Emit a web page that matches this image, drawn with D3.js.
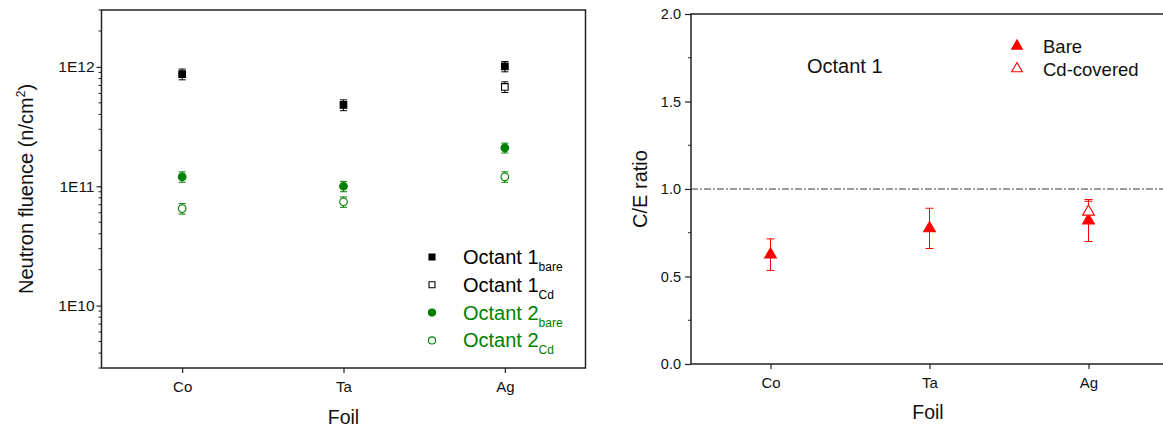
<!DOCTYPE html>
<html>
<head>
<meta charset="utf-8">
<script src="https://cdn.jsdelivr.net/npm/d3@7"></script>
<style>
body { margin: 0; background: #fff; }
svg { font-family: "Liberation Sans", Arial, sans-serif; }
</style>
</head>
<body>
<svg id="chart" width="1163" height="428"></svg>
<script>
// foils on the x axis
var foils = ["Co", "Ta", "Ag"];

// left panel: neutron fluence (n/cm2), value and error
var oct1Bare = [{foil: "Co", v: 8.7e11, e: 0.9e11},
		{foil: "Ta", v: 4.8e11, e: 0.5e11},
		{foil: "Ag", v: 1.01e12, e: 0.1e12}];
var oct1Cd = [{foil: "Ag", v: 6.8e11, e: 0.7e11}];
var oct2Bare = [{foil: "Co", v: 1.2e11, e: 0.12e11},
		{foil: "Ta", v: 1.0e11, e: 0.1e11},
		{foil: "Ag", v: 2.1e11, e: 0.2e11}];
var oct2Cd = [{foil: "Co", v: 6.5e10, e: 0.65e10},
	      {foil: "Ta", v: 7.4e10, e: 0.74e10},
	      {foil: "Ag", v: 1.2e11, e: 0.12e11}];
var fluenceTicks = [1e10, 1e11, 1e12];

// right panel: C/E ratio
var ceBare = [{foil: "Co", v: 0.625, e: 0.09},
	      {foil: "Ta", v: 0.775, e: 0.115},
	      {foil: "Ag", v: 0.82, e: 0.12}];
var ceCd = [{foil: "Ag", v: 0.87, e: 0.06}];
var ceTicks = [0.0, 0.5, 1.0, 1.5, 2.0];

var green = "#008000", red = "#ff0000";
var svg = d3.select("#chart");

// ---------- left panel ----------
var L = {left: 101.5, right: 585.5, top: 10, bottom: 368};
var xL = d3.scalePoint().domain(foils).range([L.left, L.right]).padding(0.5);
var yL = d3.scaleLog().domain([3e9, 3e12]).range([L.bottom, L.top]);

var gL = svg.append("g");
gL.append("rect")
    .attr("x", L.left).attr("y", L.top)
    .attr("width", L.right - L.left).attr("height", L.bottom - L.top)
    .style("fill", "none").style("stroke", "#222").style("stroke-width", 1.5);

// minor log ticks
var minor = [];
[1e9, 1e10, 1e11, 1e12].forEach(function(d) {
    for (var k = 2; k <= 9; k++) {
	var v = d * k;
	if (v >= 3e9 && v <= 3e12) minor.push(v);
    }
});
gL.selectAll(".minorL").data(minor).enter().append("line")
    .attr("x1", L.left).attr("x2", L.left - 3)
    .attr("y1", function(d) {return yL(d);})
    .attr("y2", function(d) {return yL(d);})
    .style("stroke", "#222").style("stroke-width", 1);

var yAxisL = gL.append("g")
    .attr("transform", "translate(" + L.left + ",0)")
    .call(d3.axisLeft(yL).tickValues(fluenceTicks).tickSize(5).tickPadding(2)
	  .tickFormat(function(d) {return "1E" + Math.round(Math.log10(d));}));
yAxisL.select(".domain").remove();
yAxisL.selectAll("line").style("stroke", "#222").style("stroke-width", 1.2);
yAxisL.selectAll("text").style("font-size", "15.5px").style("fill", "#111");

var xAxisL = gL.append("g")
    .attr("transform", "translate(0," + L.bottom + ")")
    .call(d3.axisBottom(xL).tickSize(5).tickPadding(8));
xAxisL.select(".domain").remove();
xAxisL.selectAll("line").style("stroke", "#222").style("stroke-width", 1.2);
xAxisL.selectAll("text").style("font-size", "15px").style("fill", "#111");

gL.append("text")
    .attr("x", (L.left + L.right) / 2).attr("y", 424)
    .attr("text-anchor", "middle")
    .style("font-size", "19.5px").style("fill", "#111")
    .text("Foil");

var ytL = gL.append("text")
    .attr("transform", "translate(33," + (L.top + L.bottom) / 2 + ") rotate(-90)")
    .attr("text-anchor", "middle")
    .style("font-size", "20px").style("fill", "#111");
ytL.append("tspan").text("Neutron fluence (n/cm");
ytL.append("tspan").attr("dy", -8).style("font-size", "12px").text("2");
ytL.append("tspan").attr("dy", 8).text(")");

function errorBars(g, data, x, y, col, cap) {
    var e = g.append("g").selectAll("g").data(data).enter().append("g")
	.style("stroke", col).style("stroke-width", 1);
    e.append("line")
	.attr("x1", function(d) {return x(d.foil);})
	.attr("x2", function(d) {return x(d.foil);})
	.attr("y1", function(d) {return y(d.v - d.e);})
	.attr("y2", function(d) {return y(d.v + d.e);});
    [-1, 1].forEach(function(s) {
	e.append("line")
	    .attr("x1", function(d) {return x(d.foil) - cap;})
	    .attr("x2", function(d) {return x(d.foil) + cap;})
	    .attr("y1", function(d) {return y(d.v + s * d.e);})
	    .attr("y2", function(d) {return y(d.v + s * d.e);});
    });
}

function points(g, data, x, y, type, size, col, filled) {
    g.append("g").selectAll("path").data(data).enter().append("path")
	.attr("d", d3.symbol().type(type).size(size))
	.attr("transform", function(d) {
	    return "translate(" + x(d.foil) + "," + y(d.v) + ")";
	})
	.style("fill", filled ? col : "#fff")
	.style("stroke", col).style("stroke-width", 1.1);
}

var seriesL = [
    {data: oct1Bare, col: "#000", type: d3.symbolSquare, filled: true, lab: "Octant 1", sub: "bare"},
    {data: oct1Cd, col: "#000", type: d3.symbolSquare, filled: false, lab: "Octant 1", sub: "Cd"},
    {data: oct2Bare, col: green, type: d3.symbolCircle, filled: true, lab: "Octant 2", sub: "bare"},
    {data: oct2Cd, col: green, type: d3.symbolCircle, filled: false, lab: "Octant 2", sub: "Cd"}
];
seriesL.forEach(function(s) {
    errorBars(gL, s.data, xL, yL, s.col, 3.5);
    points(gL, s.data, xL, yL, s.type, s.type == d3.symbolSquare ? 44 : 46, s.col, s.filled);
});

// legend
var legL = gL.append("g").selectAll("g").data(seriesL).enter().append("g")
    .attr("transform", function(d, i) {return "translate(432," + (257 + i * 27.8) + ")";});
legL.append("path")
    .attr("d", function(d) {return d3.symbol().type(d.type).size(d.type == d3.symbolSquare ? 36 : 40)();})
    .style("fill", function(d) {return d.filled ? d.col : "#fff";})
    .style("stroke", function(d) {return d.col;}).style("stroke-width", 1.1);
var lt = legL.append("text")
    .attr("x", 31).attr("y", 7)
    .style("font-size", "20px")
    .style("fill", function(d) {return d.col;});
lt.append("tspan").text(function(d) {return d.lab;});
lt.append("tspan").attr("dy", 7).style("font-size", "12px").text(function(d) {return d.sub;});

// ---------- right panel ----------
var R = {left: 691, right: 1168, top: 14, bottom: 364};
var xR = d3.scalePoint().domain(foils).range([R.left, R.right]).padding(0.5);
var yR = d3.scaleLinear().domain([0, 2]).range([R.bottom, R.top]);

var gR = svg.append("g");
gR.append("rect")
    .attr("x", R.left).attr("y", R.top)
    .attr("width", R.right - R.left).attr("height", R.bottom - R.top)
    .style("fill", "none").style("stroke", "#222").style("stroke-width", 1.5);

gR.selectAll(".minorR").data(d3.range(0.25, 2, 0.5)).enter().append("line")
    .attr("x1", R.left).attr("x2", R.left - 3)
    .attr("y1", function(d) {return yR(d);})
    .attr("y2", function(d) {return yR(d);})
    .style("stroke", "#222").style("stroke-width", 1);

var yAxisR = gR.append("g")
    .attr("transform", "translate(" + R.left + ",0)")
    .call(d3.axisLeft(yR).tickValues(ceTicks).tickSize(6).tickPadding(4)
	  .tickFormat(d3.format(".1f")));
yAxisR.select(".domain").remove();
yAxisR.selectAll("line").style("stroke", "#222").style("stroke-width", 1.2);
yAxisR.selectAll("text").style("font-size", "14.5px").style("fill", "#111");

var xAxisR = gR.append("g")
    .attr("transform", "translate(0," + R.bottom + ")")
    .call(d3.axisBottom(xR).tickSize(5).tickPadding(8));
xAxisR.select(".domain").remove();
xAxisR.selectAll("line").style("stroke", "#222").style("stroke-width", 1.2);
xAxisR.selectAll("text").style("font-size", "15px").style("fill", "#111");

gR.append("text")
    .attr("x", 928).attr("y", 419)
    .attr("text-anchor", "middle")
    .style("font-size", "19.5px").style("fill", "#111")
    .text("Foil");

gR.append("text")
    .attr("transform", "translate(647," + (R.top + R.bottom) / 2 + ") rotate(-90)")
    .attr("text-anchor", "middle")
    .style("font-size", "20px").style("fill", "#111")
    .text("C/E ratio");

// reference line at 1.0
gR.append("line")
    .attr("x1", R.left).attr("x2", R.right)
    .attr("y1", yR(1)).attr("y2", yR(1))
    .style("stroke", "#222").style("stroke-width", 0.9)
    .style("stroke-dasharray", "7,2,2,2");

gR.append("text")
    .attr("x", 807).attr("y", 73)
    .style("font-size", "20px").style("fill", "#111")
    .text("Octant 1");

var seriesR = [
    {data: ceBare, filled: true, lab: "Bare"},
    {data: ceCd, filled: false, lab: "Cd-covered"}
];
seriesR.forEach(function(s) {
    errorBars(gR, s.data, xR, yR, red, 4);
    points(gR, s.data, xR, yR, d3.symbolTriangle, 60, red, s.filled);
});

var legR = gR.append("g").selectAll("g").data(seriesR).enter().append("g")
    .attr("transform", function(d, i) {return "translate(1017," + (46 + i * 22.7) + ")";});
legR.append("path")
    .attr("d", d3.symbol().type(d3.symbolTriangle).size(50))
    .style("fill", function(d) {return d.filled ? red : "#fff";})
    .style("stroke", red).style("stroke-width", 1.1);
legR.append("text")
    .attr("x", 26).attr("y", 7)
    .style("font-size", "18.5px").style("fill", "#111")
    .text(function(d) {return d.lab;});
</script>
</body>
</html>
